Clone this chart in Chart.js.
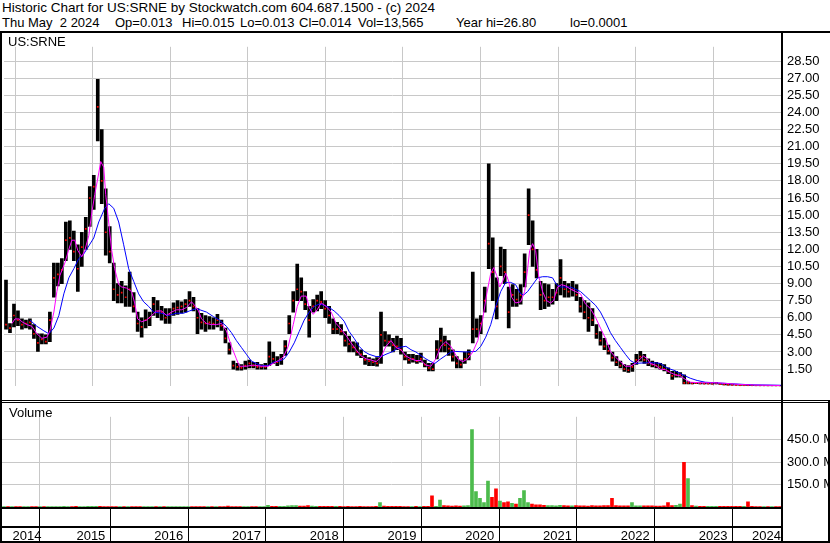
<!DOCTYPE html>
<html>
<head>
<meta charset="utf-8">
<script src="https://cdn.jsdelivr.net/npm/chart.js@4.4.1/dist/chart.umd.min.js"></script>
<style>
    body { margin: 0; background: #fff; width: 830px; height: 543px; overflow: hidden; position: relative; font-family: Arial, "Liberation Sans", sans-serif; }
    .txt { position: absolute; white-space: pre; font-size: 13px; line-height: 15px; color: #000; z-index: 2; }
    .ln { position: absolute; background: #000; z-index: 3; }
    .panel { position: absolute; left: 0; width: 830px; }
    .panel canvas { display: block; }
</style>
</head>
<body>
<div class="txt" style="left:2px;top:0;font-size:13.5px">Historic Chart for US:SRNE by Stockwatch.com 604.687.1500 - (c) 2024</div>
<div class="txt" style="left:2px;top:15px">Thu May  2 2024</div>
<div class="txt" style="left:115px;top:15px">Op=0.013</div>
<div class="txt" style="left:182px;top:15px">Hi=0.015</div>
<div class="txt" style="left:240px;top:15px">Lo=0.013</div>
<div class="txt" style="left:299px;top:15px">Cl=0.014</div>
<div class="txt" style="left:358px;top:15px">Vol=13,565</div>
<div class="txt" style="left:456px;top:15px">Year hi=26.80</div>
<div class="txt" style="left:570px;top:15px">lo=0.0001</div>

<div class="panel" style="top:33px;height:367px"><canvas id="price-chart" width="830" height="367"></canvas></div>
<div class="panel" style="top:403px;height:140px"><canvas id="volume-chart" width="830" height="140"></canvas></div>

<div class="txt" style="left:8px;top:34px">US:SRNE</div>
<div class="txt" style="left:9px;top:405px">Volume</div>

<!-- frame lines -->
<div class="ln" style="left:0;top:31px;width:830px;height:2px"></div>
<div class="ln" style="left:0;top:31px;width:2px;height:512px"></div>
<div class="ln" style="left:781px;top:31px;width:2px;height:512px"></div>
<div class="ln" style="left:0;top:400px;width:830px;height:1px"></div>
<div class="ln" style="left:0;top:402px;width:830px;height:1px"></div>
<div class="ln" style="left:0;top:507px;width:783px;height:2px"></div>
<div class="ln" style="left:0;top:526px;width:783px;height:2px"></div>
<div class="ln" style="left:0;top:541px;width:830px;height:2px"></div>
<div class="ln" style="left:828px;top:400px;width:2px;height:143px"></div>

<script>
// Time axis: one bar every ~19 days, first bar mid May 2014
const firstBarYear = 2014.3829;
const barStep = 0.051427;
const axisStart = 2014.3572;
const axisEnd = 2024.3729;
const yearLines = [2015, 2016, 2017, 2018, 2019, 2020, 2021, 2022, 2023, 2024];
const yearLabels = [2014, 2015, 2016, 2017, 2018, 2019, 2020, 2021, 2022, 2023, 2024];
const priceTicks = [1.5, 3, 4.5, 6, 7.5, 9, 10.5, 12, 13.5, 15, 16.5, 18, 19.5, 21, 22.5, 24, 25.5, 27, 28.5];
const volumeTicks = [150, 300, 450];

// Price bars (US$)
const highs = [
    9.3, 5.5, 7.2, 6.6, 5.9, 5.8, 5.9, 5.4, 4.6, 4.6,
    4.5, 6.5, 10.8, 10.8, 11.2, 14.4, 14.5, 13.6, 12.4, 13.5,
    14.8, 17.5, 18.5, 26.9, 22.5, 17.3, 14.0, 10.8, 9.0, 9.2,
    8.8, 10.0, 8.2, 6.5, 6.0, 6.7, 6.5, 7.8, 7.5, 7.0,
    6.8, 6.8, 7.3, 7.5, 7.4, 7.6, 8.3, 7.8, 6.8, 6.4,
    6.2, 6.1, 6.0, 6.3, 5.8, 5.1, 3.8, 2.2, 2.0, 1.9,
    2.2, 2.3, 2.1, 2.1, 1.9, 2.0, 3.9, 3.0, 2.6, 2.8,
    4.0, 6.2, 8.3, 10.7, 9.5, 8.3, 7.0, 7.6, 8.0, 8.3,
    7.5, 7.0, 5.9, 5.6, 5.4, 4.8, 4.4, 3.9, 3.8, 3.2,
    2.7, 2.5, 2.4, 2.5, 6.5, 4.8, 4.5, 4.2, 4.4, 4.2,
    3.0, 2.8, 2.8, 2.7, 2.9, 2.3, 2.0, 2.0, 4.0, 5.1,
    4.4, 4.0, 3.2, 2.6, 2.3, 3.0, 3.2, 10.0, 5.9, 6.2,
    8.7, 19.5, 13.0, 9.5, 12.2, 12.0, 8.7, 8.9, 8.5, 8.9,
    11.6, 17.3, 14.5, 12.0, 9.2, 9.0, 8.9, 8.5, 9.0, 11.1,
    9.2, 9.0, 9.2, 8.9, 7.8, 7.5, 7.3, 6.8, 5.4, 4.8,
    4.2, 3.6, 3.0, 2.6, 2.2, 1.9, 1.8, 2.0, 2.8, 3.05,
    2.8, 2.4, 2.2, 2.1, 2.0, 1.9, 1.6, 1.3, 1.3, 1.2,
    1.0, 0.4, 0.35, 0.32, 0.3, 0.3, 0.28, 0.3, 0.35, 0.25,
    0.2, 0.18, 0.16, 0.14, 0.12, 0.1, 0.09, 0.08, 0.06, 0.05,
    0.04, 0.03, 0.03, 0.02, 0.02
];
const lows = [
    5.0, 4.7, 5.2, 5.3, 5.0, 5.1, 5.0, 4.2, 3.05, 3.7,
    3.7, 3.9, 7.8, 8.8, 9.0, 11.0, 12.0, 11.0, 8.3, 10.5,
    12.0, 14.0, 15.5, 21.5, 16.0, 11.5, 10.8, 7.5, 7.3, 7.3,
    7.0, 7.0, 6.5, 4.8, 4.3, 5.1, 5.3, 6.2, 6.0, 5.8,
    5.5, 5.5, 6.2, 6.3, 6.4, 6.5, 7.0, 6.6, 4.6, 5.0,
    4.8, 5.0, 5.0, 5.2, 4.9, 3.8, 2.8, 1.5, 1.4, 1.4,
    1.5, 1.6, 1.6, 1.5, 1.5, 1.5, 1.8, 2.0, 1.8, 1.9,
    2.7, 4.6, 6.5, 7.5, 7.5, 6.7, 4.3, 6.5, 6.6, 6.8,
    6.0, 5.5, 4.6, 4.6, 4.5, 3.5, 3.0, 3.0, 2.7, 2.5,
    1.9, 1.8, 1.8, 1.75, 2.0, 3.5, 3.5, 3.0, 3.2, 2.8,
    2.3, 2.0, 2.1, 2.0, 2.1, 1.7, 1.35, 1.35, 2.4, 3.0,
    3.0, 2.7, 2.2, 1.6, 1.6, 2.0, 2.3, 3.8, 4.3, 4.6,
    6.5, 10.3, 7.5, 5.9, 9.7, 9.0, 5.1, 7.0, 7.0, 7.2,
    8.7, 12.4, 10.5, 9.5, 6.7, 6.8, 7.0, 7.2, 7.5, 8.0,
    7.8, 7.8, 7.9, 7.5, 6.5, 5.9, 4.8, 5.3, 4.2, 3.6,
    3.2, 2.8, 2.2, 1.8, 1.6, 1.3, 1.2, 1.3, 1.9, 2.2,
    2.0, 1.8, 1.7, 1.6, 1.5, 1.35, 1.1, 0.6, 0.8, 0.8,
    0.2, 0.2, 0.2, 0.22, 0.2, 0.2, 0.2, 0.18, 0.2, 0.15,
    0.12, 0.1, 0.1, 0.08, 0.06, 0.06, 0.05, 0.04, 0.03, 0.02,
    0.02, 0.01, 0.01, 0.01, 0.01
];
const closes = [
    5.4, 5.1, 6.2, 5.8, 5.4, 5.5, 5.6, 4.6, 3.8, 4.1,
    3.9, 5.8, 9.5, 9.8, 10.2, 12.8, 13.0, 11.8, 10.3, 12.2,
    13.8, 16.5, 17.5, 24.5, 18.0, 13.5, 11.8, 8.5, 8.0, 8.2,
    7.8, 8.5, 7.0, 5.5, 5.2, 5.8, 6.0, 7.2, 6.5, 6.5,
    6.0, 6.3, 6.8, 6.9, 7.0, 7.2, 7.5, 7.0, 6.0, 5.6,
    5.5, 5.6, 5.5, 5.8, 5.3, 4.2, 3.2, 1.8, 1.7, 1.6,
    1.8, 2.0, 1.8, 1.7, 1.7, 1.7, 2.6, 2.4, 2.1, 2.3,
    3.5, 5.5, 7.5, 8.5, 8.3, 7.2, 5.8, 7.0, 7.5, 7.4,
    6.8, 6.2, 5.0, 5.0, 4.8, 4.0, 3.7, 3.4, 3.0, 2.8,
    2.3, 2.2, 2.1, 2.0, 4.5, 4.0, 3.9, 3.6, 3.5, 3.2,
    2.6, 2.3, 2.4, 2.2, 2.4, 1.9, 1.6, 1.5, 3.2, 4.0,
    3.6, 3.3, 2.6, 2.0, 1.9, 2.4, 2.8, 5.0, 5.0, 5.5,
    7.5, 12.5, 10.0, 7.0, 10.5, 10.0, 6.5, 8.0, 7.6, 8.0,
    10.0, 15.0, 12.0, 10.2, 8.0, 7.5, 7.8, 7.8, 8.2, 9.5,
    8.5, 8.3, 8.5, 8.0, 7.0, 6.5, 6.0, 5.8, 4.6, 4.0,
    3.5, 3.1, 2.5, 2.1, 1.8, 1.5, 1.4, 1.7, 2.3, 2.6,
    2.3, 2.0, 1.9, 1.8, 1.7, 1.5, 1.3, 0.9, 1.0, 1.0,
    0.3, 0.3, 0.25, 0.27, 0.25, 0.22, 0.22, 0.22, 0.25, 0.18,
    0.15, 0.13, 0.12, 0.1, 0.08, 0.08, 0.07, 0.05, 0.04, 0.03,
    0.03, 0.02, 0.02, 0.015, 0.014
];

// Volume per bar (millions of shares)
const volumes = [
    2, 2, 3, 2, 2, 2, 3, 2, 3, 2, 2, 3,
    3, 3, 3, 4, 3, 3, 4, 3, 3, 4, 4, 5, 4, 3, 3, 2, 2, 3, 2, 2,
    2, 2, 3, 2, 2, 2, 2, 2, 2, 3, 2, 2, 2, 2, 2, 2, 3, 2, 2,
    2, 2, 2, 2, 3, 6, 3, 2, 2, 3, 3, 3, 2, 2, 3, 12, 5, 4, 4, 5,
    8, 10, 9, 7, 6, 10, 6, 5, 5, 4, 4, 5, 4, 4, 3, 4, 3, 3, 4, 3,
    3, 3, 4, 30, 6, 5, 4, 4, 4, 3, 3, 3, 4, 3, 4, 4, 75, 5, 46,
    10, 8, 6, 8, 6, 8, 10, 519, 104, 58, 30, 173, 64, 121, 40, 30, 35, 25, 20, 58,
    110, 30, 20, 15, 15, 12, 10, 10, 8, 12, 10, 8, 8, 10, 8, 8, 7, 10, 8, 8,
    10, 10, 58, 10, 8, 8, 8, 29, 8, 8, 8, 8, 8, 6, 6, 8, 29, 10, 12, 20,
    300, 190, 10, 6, 5, 5, 4, 4, 5, 4, 4, 4, 4, 4, 5, 5, 35, 4, 3, 3, 3, 3, 2, 2, 2
];

// Moving averages: [bar index, price]
const shortMa = [
    [1.5, 5.5], [2.25, 5.9], [3.25, 5.9], [4, 5.65], [5.25, 5.4], [6.5, 5.25], [7.75, 4.6], [9, 4.2],
    [10.25, 4.3], [11, 4.85], [12, 6.5], [12.75, 8.3], [13.5, 9.7], [14.75, 10.8], [15.75, 12.0], [16.5, 12.8],
    [17.25, 12.8], [18, 11.9], [19, 11.35], [19.75, 11.9], [20.75, 13.2], [21.5, 15.2], [22.25, 16.8], [23.25, 18.7],
    [23.75, 19.7], [24.5, 19.2], [25, 16.8], [25.5, 15.2], [26, 13.5], [26.5, 11.9], [27.25, 10.3], [28.25, 8.9],
    [29, 8.7], [30.25, 8.6], [31.5, 8.3], [32.25, 7.3], [33, 5.9], [34, 5.65], [35.25, 5.8], [36.5, 6.2],
    [37.75, 6.6], [39, 6.6], [40.25, 6.2], [41.5, 6.5], [42.75, 6.7], [44, 6.7], [45.25, 6.9], [46.5, 7.4],
    [47.25, 7.1], [48.25, 6.6], [49, 5.9], [50.25, 5.5], [51.5, 5.4], [52.75, 5.4], [54, 5.5], [55.25, 4.85],
    [56.5, 3.5], [57.75, 2.4], [58.5, 1.75], [60.25, 1.75], [62, 1.85], [64, 1.75], [65.75, 1.75], [67, 2.0],
    [68.25, 2.25], [69.5, 2.55], [70.75, 3.5], [72, 5.4], [73, 7.0], [74, 7.9], [75.25, 7.9], [76, 6.9],
    [77, 6.3], [78, 6.7], [79, 7.3], [80.25, 7.0], [81.5, 6.5], [82.75, 5.5], [84, 5.0], [85.25, 4.45],
    [86.5, 3.8], [87.75, 3.2], [89, 2.65], [90.25, 2.4], [91.5, 2.3], [92.75, 2.15], [94, 2.55], [95.25, 3.5],
    [96.5, 4.0], [97.75, 3.4], [99, 3.2], [100.25, 2.65], [101.5, 2.4], [102.75, 2.25], [104, 2.25], [105.25, 1.85],
    [106.5, 1.75], [107.75, 2.4], [109, 3.5], [110.25, 3.9], [111.5, 3.5], [112.25, 3.05], [113.25, 2.4], [114.5, 2.15],
    [115.75, 2.4], [117, 3.0], [118.25, 4.0], [119.5, 5.9], [120.5, 8.1], [121.5, 9.9], [122.25, 10.4], [123, 9.7],
    [123.75, 8.7], [124.5, 9.2], [125.25, 9.9], [126, 9.2], [126.75, 7.8], [127.75, 7.3], [129, 7.4], [130, 8.3],
    [130.75, 10.3], [131.25, 11.9], [132, 12.5], [132.75, 11.9], [133.5, 9.7], [134.5, 8.3], [135.5, 7.5], [136.5, 7.3],
    [137.25, 7.5], [138.25, 8.7], [139.25, 8.9], [140.25, 8.8], [141.5, 8.5], [142.75, 8.3], [144, 8.1], [145.25, 7.2],
    [146.5, 6.8], [147.75, 6.05], [149, 5.1], [150.25, 4.2], [151.5, 3.05], [152.75, 2.55], [154, 2.15], [155.25, 1.75],
    [156.5, 1.75], [157.75, 2.0], [159, 2.4], [159.75, 2.65], [160.75, 2.4], [161.5, 2.0], [162.75, 1.85], [164, 1.5],
    [165.25, 1.45], [166.5, 1.2], [167.75, 1.0], [169, 0.9], [170.25, 0.6], [171.5, 0.35], [174, 0.3], [177.75, 0.3],
    [180.25, 0.25], [184, 0.15], [187.75, 0.1], [194, 0.06]
];
const longMa = [
    [6, 5.8], [7.75, 5.25], [9.5, 4.85], [10.75, 4.6], [12, 5.1], [13.25, 6.2], [14.5, 8.1], [15.75, 9.5],
    [17, 10.3], [18.25, 11.2], [19.5, 11.6], [20.75, 12.3], [22, 13.0], [23.25, 14.4], [24.75, 15.6], [25.75, 16.0],
    [27, 15.6], [28.25, 14.4], [29.5, 12.4], [30.75, 10.3], [32, 9.2], [33.25, 8.1], [34.5, 7.4], [35.75, 7.0],
    [37, 6.5], [39, 6.4], [40.75, 6.2], [42.75, 6.4], [44.5, 6.4], [46, 6.6], [47.75, 6.8], [50.25, 6.5],
    [52, 6.1], [53.5, 5.8], [55.25, 5.25], [56.5, 4.7], [57.75, 4.0], [59, 3.4], [60.25, 2.8], [61.5, 2.2],
    [62.75, 2.0], [64, 1.8], [65.75, 1.8], [67, 2.1], [68.5, 2.2], [69.75, 2.4], [71, 3.0], [72.25, 3.8],
    [73.5, 4.8], [74.75, 5.8], [76, 6.5], [77.25, 7.0], [78.5, 7.2], [79.75, 7.1], [81, 6.9], [82.25, 6.6],
    [83.5, 6.2], [84.75, 5.7], [86, 4.8], [87.25, 4.2], [88.5, 3.5], [89.75, 3.05], [91, 2.8], [92.75, 2.6],
    [94, 2.6], [95.25, 2.8], [97, 3.05], [98.5, 3.4], [100.25, 3.5], [101.5, 3.2], [102.75, 3.0], [104, 2.7],
    [105.25, 2.4], [106.5, 2.15], [107.5, 2.0], [109, 2.4], [110.25, 2.7], [111.5, 3.0], [112.75, 3.05], [115.25, 3.0],
    [117.75, 3.05], [119, 3.5], [120.25, 4.3], [121.5, 5.4], [122.75, 7.0], [124, 8.3], [125.25, 9.1], [126.5, 9.1],
    [127.75, 8.9], [129, 8.1], [129.75, 8.0], [130.75, 8.3], [132, 8.9], [133.25, 9.5], [134.5, 9.6], [135.75, 9.6],
    [137, 9.5], [138, 8.9], [139, 8.7], [141.5, 8.7], [142.75, 8.5], [144, 8.3], [145.25, 7.9], [146.5, 7.5],
    [147.75, 7.1], [149, 6.5], [150.25, 5.65], [151.5, 4.7], [152.75, 4.0], [154, 3.4], [155.25, 2.8], [156.5, 2.25],
    [157.75, 2.0], [160.25, 2.05], [162.75, 2.05], [164, 2.0], [165.25, 1.7], [166.5, 1.5], [167.75, 1.35], [169, 1.1],
    [170.25, 0.9], [171.5, 0.7], [173.25, 0.5], [175.25, 0.35], [177.75, 0.3], [180.25, 0.25], [182.75, 0.2], [185.25, 0.15],
    [187.75, 0.12], [191.5, 0.1], [194.5, 0.08]
];

const GRID = '#c8c8c8';
const UP = '#4cbb4c';
const DOWN = '#ff0000';
const FONT = { family: 'Arial, "Liberation Sans", sans-serif', size: 13 };

const barDate = t => firstBarYear + t * barStep;

function rightAxis(max, tickValues, fmt) {
    return {
        position: 'right',
        min: 0,
        max: max,
        afterBuildTicks: s => { s.ticks = tickValues.map(v => ({ value: v })); },
        ticks: {
            autoSkip: false,
            padding: 6,
            color: '#000',
            font: FONT,
            callback: v => fmt(v)
        },
        grid: { color: GRID, drawTicks: false },
        border: { display: false },
        afterFit: s => { s.width = 49; }
    };
}

// 1. Price panel
new Chart(document.getElementById('price-chart'), {
    type: 'bar',
    data: {
        datasets: [
            {
                type: 'line',
                label: 'MA short',
                data: shortMa.map(([t, v]) => ({ x: barDate(t), y: v })),
                borderColor: '#ff00ff',
                borderWidth: 1,
                pointRadius: 0,
                order: 0
            },
            {
                type: 'line',
                label: 'MA long',
                data: longMa.map(([t, v]) => ({ x: barDate(t), y: v })),
                borderColor: '#0000ff',
                borderWidth: 1,
                pointRadius: 0,
                order: 1
            },
            {
                type: 'line',
                label: 'Close',
                data: closes.map((c, i) => ({ x: barDate(i), y: c })),
                showLine: false,
                pointStyle: 'rect',
                pointRadius: 1.2,
                pointBorderWidth: 0,
                pointBackgroundColor: DOWN,
                order: 2
            },
            {
                type: 'bar',
                label: 'Range',
                data: highs.map((h, i) => ({ x: barDate(i), y: [lows[i], h] })),
                backgroundColor: '#000',
                barThickness: 3,
                order: 3
            }
        ]
    },
    options: {
        responsive: false,
        animation: false,
        layout: { padding: { left: 2, right: 0, top: 0, bottom: 0 } },
        plugins: { legend: { display: false }, tooltip: { enabled: false } },
        scales: {
            x: {
                type: 'linear',
                min: axisStart,
                max: axisEnd,
                offset: false,
                afterBuildTicks: s => { s.ticks = yearLines.map(v => ({ value: v })); },
                ticks: { display: false },
                grid: { color: GRID, drawTicks: false },
                border: { display: false },
                afterFit: s => { s.height = 0; }
            },
            y: rightAxis(29.76, priceTicks, v => v.toFixed(2))
        }
    }
});

// 2. Volume panel with the year axis
const yearMids = yearLabels.map(y => {
    const from = Math.max(y, axisStart);
    const to = Math.min(y + 1, axisEnd);
    return (from + to) / 2;
});
const volColors = volumes.map((v, i) => (i === 0 || closes[i] >= closes[i - 1] ? UP : DOWN));

new Chart(document.getElementById('volume-chart'), {
    type: 'bar',
    data: {
        datasets: [{
            label: 'Volume',
            data: volumes.map((v, i) => ({ x: barDate(i), y: v })),
            backgroundColor: volColors,
            barThickness: 3
        }]
    },
    options: {
        responsive: false,
        animation: false,
        layout: { padding: { left: 2, right: 0, top: 0, bottom: 0 } },
        plugins: { legend: { display: false }, tooltip: { enabled: false } },
        scales: {
            x: {
                type: 'linear',
                min: axisStart,
                max: axisEnd,
                offset: false,
                afterBuildTicks: s => {
                    s.ticks = yearLines.concat(yearMids).sort((a, b) => a - b).map(v => ({ value: v }));
                },
                ticks: {
                    autoSkip: false,
                    maxRotation: 0,
                    padding: -12,
                    color: '#000',
                    font: FONT,
                    callback: v => (Number.isInteger(v) ? '' : String(Math.floor(v)))
                },
                grid: {
                    color: c => (c.tick && Number.isInteger(c.tick.value) ? GRID : 'rgba(0,0,0,0)'),
                    tickColor: c => (c.tick && Number.isInteger(c.tick.value) ? '#000' : 'rgba(0,0,0,0)'),
                    tickLength: 34,
                    tickWidth: 1
                },
                border: { display: false },
                afterFit: s => { s.height = 36; }
            },
            y: rightAxis(604.7, volumeTicks, v => v.toFixed(1) + ' M')
        }
    }
});
</script>
</body>
</html>
